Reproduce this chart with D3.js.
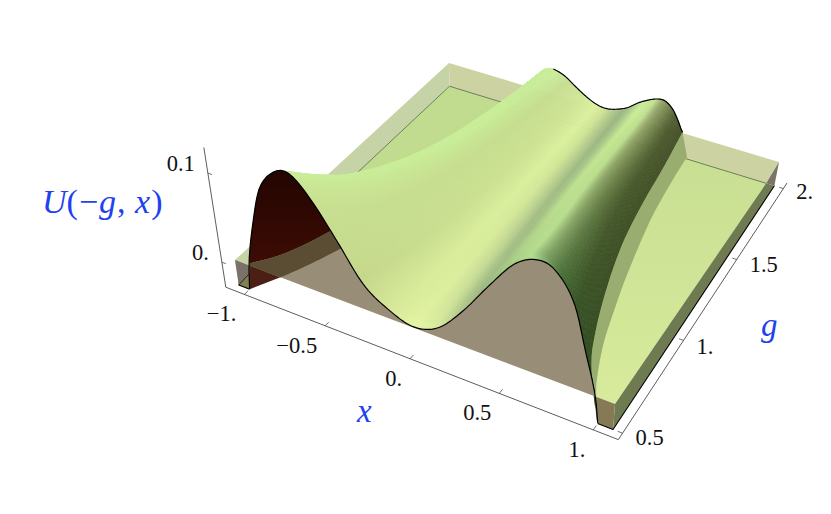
<!DOCTYPE html>
<html>
<head>
<meta charset="utf-8">
<script src="https://d3js.org/d3.v7.min.js"></script>
<style>
  body { margin: 0; background: white; }
  text { font-family: "Liberation Serif", serif; }
</style>
</head>
<body>
<div id="container"></div>
<script>
// plot ranges
const xLo = -1.07, xHi = 1.08, gLo = 0.5, gHi = 2, uMin = -0.03, uTop = 0.127;

// surface table: u. columns are xi (x / half width of the row)
const xiCols = [-1, -0.98, -0.92, -0.85, -0.75, -0.66, -0.55, -0.42, -0.28, -0.14, 0, 0.14, 0.28, 0.42, 0.55, 0.66, 0.75, 0.85, 0.92, 0.98, 1];
const gRows = [0.5, 0.6, 0.75, 1, 1.25, 1.5, 1.75, 2];
const halfWidth = [1, 0.89, 0.8, 0.695, 0.615, 0.565, 0.53, 0.49];
const u050 = [-0.029, 0.003, 0.052, 0.095, 0.119, 0.123, 0.104, 0.069, 0.029, 0.01, 0.001, 0.011, 0.041, 0.079, 0.111, 0.123, 0.119, 0.092, 0.044, 0, -0.029];
const u060 = [0, 0.006, 0.048, 0.083, 0.104, 0.107, 0.091, 0.06, 0.028, 0.01, 0.002, 0.012, 0.036, 0.068, 0.096, 0.107, 0.104, 0.08, 0.043, 0.005, 0];
const u075 = [0, 0.005, 0.039, 0.068, 0.084, 0.087, 0.074, 0.049, 0.023, 0.008, 0.002, 0.01, 0.03, 0.056, 0.078, 0.087, 0.084, 0.065, 0.035, 0.004, 0];
const u100 = [0, 0.004, 0.03, 0.051, 0.064, 0.066, 0.056, 0.037, 0.017, 0.006, 0.001, 0.007, 0.022, 0.042, 0.059, 0.066, 0.064, 0.05, 0.026, 0.003, 0];
const u125 = [0, 0.003, 0.024, 0.041, 0.051, 0.053, 0.045, 0.03, 0.014, 0.005, 0.001, 0.006, 0.018, 0.034, 0.048, 0.053, 0.051, 0.04, 0.021, 0.003, 0];
const u150 = [0, 0.003, 0.02, 0.034, 0.043, 0.044, 0.037, 0.025, 0.011, 0.004, 0.001, 0.005, 0.015, 0.028, 0.04, 0.044, 0.043, 0.033, 0.018, 0.002, 0];
const u175 = [0, 0.002, 0.017, 0.029, 0.036, 0.037, 0.031, 0.021, 0.01, 0.003, 0.001, 0.004, 0.013, 0.024, 0.033, 0.037, 0.036, 0.028, 0.015, 0.002, 0];
const u200 = [0.002, 0.004, 0.018, 0.027, 0.031, 0.03, 0.026, 0.018, 0.01, 0.004, 0.002, 0.005, 0.011, 0.021, 0.028, 0.032, 0.032, 0.025, 0.015, 0.004, 0.001];
const uTable = [u050, u060, u075, u100, u125, u150, u175, u200];

// foot of the curved walls, [x, g, u]
const wallFootRight = [[0.984, 0.5, 0], [0.929, 0.587, 0], [0.857, 0.739, 0], [0.798, 0.912, 0], [0.742, 1.095, 0], [0.662, 1.42, 0], [0.624, 1.678, 0], [0.606, 1.857, 0]];
const wallFootLeft = [[-1, 0.5, -0.03], [-0.917, 0.607, -0.03], [-0.841, 0.724, -0.03], [-0.76, 0.88, -0.03], [-0.688, 1.074, -0.03]];

// surface colours across xi, near the front and near the back
const shadeStops = [-1, -0.8, -0.66, -0.5, -0.3, -0.12, 0, 0.12, 0.25, 0.35, 0.5, 0.64, 0.72, 0.8, 0.9, 1];
const shadeFront = ["#d0f09a", "#d0f09a", "#cbec98", "#c8de90", "#c4d68a", "#d8e99a", "#e6f7a4", "#dff0a0", "#b8cc90", "#9cb582", "#9cc080", "#b0dc8e", "#74a064", "#3c6a34", "#2a4e22", "#294a1e"];
const shadeBack = ["#c8ec98", "#c8ec98", "#c8ec98", "#c6de90", "#d0e596", "#dcf2a0", "#cfe498", "#b0c88c", "#9ab684", "#aac88a", "#ccee98", "#c0e090", "#98a86c", "#7a8852", "#505c30", "#46502a"];

// ticks
const xTicks = [-1, -0.5, 0, 0.5, 1];
const xTickLabels = ["\u22121.", "\u22120.5", "0.", "0.5", "1."];
const gTicks = [0.5, 1, 1.5, 2];
const gTickLabels = ["0.5", "1.", "1.5", "2."];
const uTicks = [0, 0.1];
const uTickLabels = ["0.", "0.1"];

const width = 831, height = 514;
const svg = d3.select("#container").append("svg").attr("width", width).attr("height", height);

// camera: homography of the u=0 plane plus a vanishing point for the vertical
const xScale = d3.scaleLinear().domain([xLo, xHi]).range([0, 1]);
const gScale = d3.scaleLinear().domain([gLo, gHi]).range([0, 1]);
const planeCorners = [[235, 260], [615, 404], [779, 162], [449, 63]];
const nadir = [493, 1987];
const uPull = -0.49;
const H = (function (q) {
    const dx1 = q[1][0] - q[2][0], dx2 = q[3][0] - q[2][0];
    const dy1 = q[1][1] - q[2][1], dy2 = q[3][1] - q[2][1];
    const sx = q[0][0] - q[1][0] + q[2][0] - q[3][0], sy = q[0][1] - q[1][1] + q[2][1] - q[3][1];
    const den = dx1 * dy2 - dx2 * dy1;
    const a = (sx * dy2 - dx2 * sy) / den, b = (dx1 * sy - sx * dy1) / den;
    return [q[1][0] - q[0][0] + a * q[1][0], q[3][0] - q[0][0] + b * q[3][0], q[0][0],
            q[1][1] - q[0][1] + a * q[1][1], q[3][1] - q[0][1] + b * q[3][1], q[0][1], a, b];
})(planeCorners);

function project(x, g, u) {
    const s = xScale(x), t = gScale(g), k = u * uPull;
    const w = H[6] * s + H[7] * t + 1 + k;
    return [(H[0] * s + H[1] * t + H[2] + k * nadir[0]) / w,
            (H[3] * s + H[4] * t + H[5] + k * nadir[1]) / w];
}
const P = p => project(p[0], p[1], p[2]);

// smooth curve through table values (hermite with finite difference tangents)
function smooth(xs, ys) {
    const n = xs.length;
    const m = xs.map((x, i) => {
        if (i == 0) return (ys[1] - ys[0]) / (xs[1] - xs[0]);
        if (i == n - 1) return (ys[n - 1] - ys[n - 2]) / (xs[n - 1] - xs[n - 2]);
        return (ys[i + 1] - ys[i - 1]) / (xs[i + 1] - xs[i - 1]);
    });
    return function (v) {
        let i = Math.min(n - 2, Math.max(0, d3.bisectRight(xs, v) - 1));
        const h = xs[i + 1] - xs[i], t = (v - xs[i]) / h;
        const t2 = t * t, t3 = t2 * t;
        return (2 * t3 - 3 * t2 + 1) * ys[i] + (t3 - 2 * t2 + t) * h * m[i]
             + (3 * t2 - 2 * t3) * ys[i + 1] + (t3 - t2) * h * m[i + 1];
    };
}

const halfAt = smooth(gRows, halfWidth);
const colFns = xiCols.map((xi, j) => smooth(gRows, uTable.map(r => r[j])));
function rowFn(g) { return smooth(xiCols, colFns.map(f => f(g))); }

// dense screen path through a few projected points
function dense(pts) {
    const sc = pts.map(P), idx = sc.map((p, i) => i);
    const fx = smooth(idx, sc.map(p => p[0])), fy = smooth(idx, sc.map(p => p[1]));
    return d3.range(0, idx.length - 1 + 0.001, 0.125).map(i => [fx(i), fy(i)]);
}

const path = d3.line();
function poly(pts, fill, opacity) {
    return svg.append("path").attr("d", path(pts) + "Z").attr("fill", fill)
        .attr("fill-opacity", opacity == null ? 1 : opacity);
}
function stroke(pts, color, w) {
    return svg.append("path").attr("d", path(pts)).attr("fill", "none")
        .attr("stroke", color).attr("stroke-width", w).attr("stroke-linejoin", "round");
}

const defs = svg.append("defs");
const grad = (id, c1, c2) => {
    const lg = defs.append("linearGradient").attr("id", id).attr("x1", 0).attr("y1", 0).attr("x2", 0).attr("y2", 1);
    lg.append("stop").attr("offset", 0).attr("stop-color", c1);
    lg.append("stop").attr("offset", 1).attr("stop-color", c2);
};
grad("maroon", "#120000", "#3d0c04");
grad("planeFill", "#c8de92", "#d8eb9c");

// back of the slab
poly([[xLo, gHi, 0], [xHi, gHi, 0], [1.025, gHi, uMin], [xLo, gHi, uMin]].map(P), "#cdd2a3");
poly([[xLo, gLo, 0], [xLo, gHi, 0], [xLo, gHi, uMin], [xLo, gLo, uMin]].map(P), "#c5d3a6");
// floor seen behind the surface
poly([[-1.075, 0.64, uMin], [xLo, gHi, uMin], [1.025, gHi, uMin], [1.0, 0.56, 0]].map(P), "#c1dc8f");
// flat part on the right of the wall
poly(dense(wallFootRight).concat([[1.025, gHi, uMin], [xHi, gLo, 0]].map(P)), "url(#planeFill)");
// right side strip and corner
poly([[xHi, gLo, 0], [1.025, gHi, uMin], [1.075, gHi, uMin], [xHi, gLo, uMin]].map(P), "#6e7b51");
poly([[xHi, gHi, 0], [1.075, gHi, uMin], [1.025, gHi, uMin]].map(P), "#7b7268");
// edge lines of the floor
stroke([[-1.075, 0.5, uMin], [xLo, gHi, uMin], [1.025, gHi, uMin]].map(P), "#6f7d55", 1);

// surface cells, far ones first
const nXi = 150, nG = 50;
const xiFine = d3.range(nXi + 1).map(i => -1 + 2 * i / nXi);
const gFine = d3.range(nG + 1).map(i => gHi - (gHi - gLo) * i / nG);
const rampF = d3.scaleLinear().domain(shadeStops).range(shadeFront).interpolate(d3.interpolateLab);
const rampB = d3.scaleLinear().domain(shadeStops).range(shadeBack).interpolate(d3.interpolateLab);
const grid = gFine.map(g => {
    const f = rowFn(g), w = halfAt(g);
    return xiFine.map(xi => project(xi * w, g, f(xi)));
});
const cells = [];
for (let r = 0; r < nG; r++) {
    const gm = (gFine[r] + gFine[r + 1]) / 2;
    for (let c = 0; c < nXi; c++) {
        const xim = (xiFine[c] + xiFine[c + 1]) / 2;
        cells.push({
            pts: [grid[r][c], grid[r][c + 1], grid[r + 1][c + 1], grid[r + 1][c]],
            color: d3.interpolateLab(rampF(xim), rampB(xim))(Math.sqrt(gScale(gm)))
        });
    }
}
svg.append("g").selectAll("path").data(cells).join("path")
    .attr("d", d => path(d.pts) + "Z")
    .attr("fill", d => d.color)
    .attr("stroke", d => d.color)
    .attr("stroke-width", 0.6);

// right wall under the edge of the surface
const edgeRight = gFine.map(g => project(halfAt(g), g, rowFn(g)(1)));
poly(edgeRight.slice(0, -3).concat(dense(wallFootRight)), "#99ad70");

// fill under the front curve
const frontFn = rowFn(gLo);
const frontCurve = xiFine.map(xi => project(xi, gLo, frontFn(xi)));
const lump = xiFine.filter(xi => Math.abs(xi) <= 0.98).map(xi => project(xi, gLo, frontFn(xi)));
const lumpPts = lump.concat([project(0.98, gLo, 0), project(-0.98, gLo, 0)]);
poly(lumpPts, "#988d76");

// dark left wall seen through the fill, cut to the fill
defs.append("clipPath").attr("id", "lumpClip").append("path").attr("d", path(lumpPts) + "Z");
const wallTopLeft = gFine.filter(g => g <= 1.1).reverse().map(g => project(-halfAt(g), g, 0));
const lumpG = svg.append("g").attr("clip-path", "url(#lumpClip)");
lumpG.append("path")
    .attr("d", path(wallTopLeft.concat([[-0.1, 1.1, 0.13], [-1, gLo, 0.13]].map(P))) + "Z")
    .attr("fill", "url(#maroon)");
lumpG.append("path")
    .attr("d", path(wallTopLeft.concat(dense(wallFootLeft).reverse())) + "Z")
    .attr("fill", "#5b4d33");

// corner pieces at the left and right of the front
poly([[xLo, gLo, 0], [xLo, gLo, uMin], [-1, gLo, uMin], [-0.98, gLo, 0]].map(P), "#7c716a");
poly([[xLo, gLo, uMin], [-1.077, 0.574, uMin], [-1, gLo, uMin]].map(P), "#7f7f50");
poly([[-1, gLo, uMin], [-0.98, gLo, 0], [-0.78, gLo, 0], [-0.917, 0.607, uMin]].map(P), "#4b1f13");
poly([[0.98, gLo, 0], [xHi, gLo, 0], [xHi, gLo, uMin], [1, gLo, uMin]].map(P), "#857a55");

// black edges
stroke(frontCurve, "black", 1.2);
const backFn = rowFn(gHi);
stroke(xiFine.filter(xi => xi >= -0.72).map(xi => project(xi * halfWidth[7], gHi, backFn(xi))), "black", 1.2);
stroke([[xLo, gLo, uMin], [-1, gLo, uMin]].map(P), "black", 1.2);
stroke([[1, gLo, uMin], [xHi, gLo, uMin], [1.075, gHi, uMin]].map(P), "black", 1.1);
stroke([[xLo, gLo, uMin], [-1.077, 0.574, uMin]].map(P), "#222", 1);

// axes
const axX = -1.118, axG = 0.468, axXr = 1.129;
const axisColor = "#333";
const tickFont = 22.5;
stroke([[axX, axG, uTop], [axX, axG, uMin], [axXr, axG, uMin], [axXr, 2.042, uMin]].map(P), axisColor, 0.8);
xTicks.forEach((v, i) => {
    const a = project(v, axG, uMin);
    stroke([a, project(v, axG + 0.022, uMin)], axisColor, 0.7);
    svg.append("text").attr("x", a[0] - 8).attr("y", a[1] + 27).attr("text-anchor", "end")
        .attr("font-size", tickFont).attr("fill", "#111").text(xTickLabels[i]);
});
const gLabelDy = [12, 14, 12, 10];
gTicks.forEach((v, i) => {
    const a = project(axXr, v, uMin);
    stroke([a, project(axXr - 0.025, v, uMin)], axisColor, 0.7);
    svg.append("text").attr("x", a[0] + 13).attr("y", a[1] + gLabelDy[i])
        .attr("font-size", tickFont).attr("fill", "#111").text(gTickLabels[i]);
});
uTicks.forEach((v, i) => {
    const a = project(axX, axG, v);
    stroke([a, project(axX + 0.025, axG, v)], axisColor, 0.7);
    svg.append("text").attr("x", a[0] - 13).attr("y", a[1] - 2).attr("text-anchor", "end")
        .attr("font-size", tickFont).attr("fill", "#111").text(uTickLabels[i]);
});

// axis titles
const blue = "#1f42f0";
const uTitle = svg.append("text").attr("x", 42).attr("y", 213).attr("font-size", 34).attr("fill", blue);
[["U", 1, 0], ["(", 0, 0], ["\u2212", 0, 1], ["g", 1, 1], [", ", 0, 1], ["x", 1, 1], [")", 0, 1]].forEach(d => {
    uTitle.append("tspan").attr("font-style", d[1] ? "italic" : "normal").attr("dx", d[2]).text(d[0]);
});
svg.append("text").attr("x", 357).attr("y", 422).attr("font-size", 33).attr("font-style", "italic").attr("fill", blue).text("x");
svg.append("text").attr("x", 761).attr("y", 336).attr("font-size", 33).attr("font-style", "italic").attr("fill", blue).text("g");
</script>
</body>
</html>
